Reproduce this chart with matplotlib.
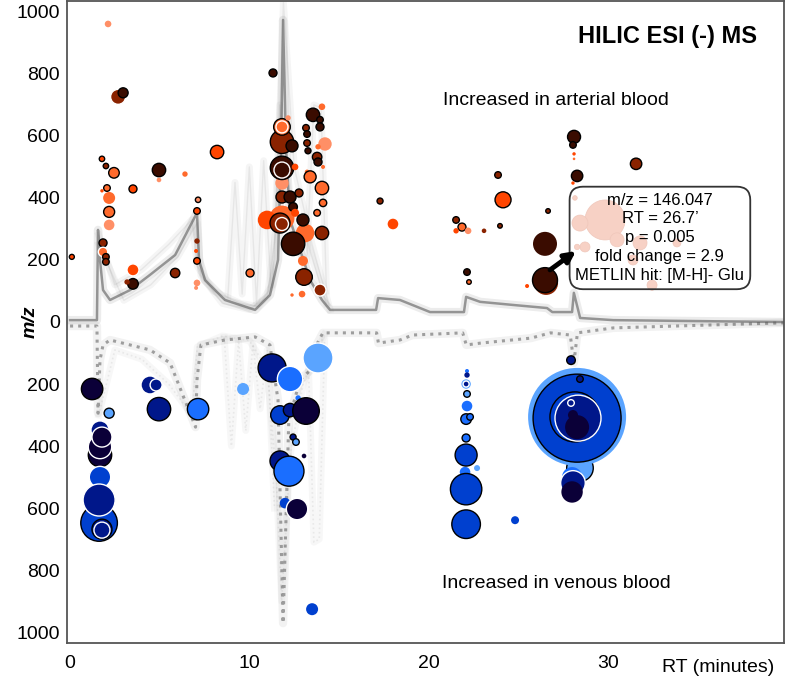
import matplotlib
matplotlib.use("Agg")
import matplotlib.pyplot as plt
import numpy as np

plt.rcParams["font.family"] = ["Liberation Sans", "DejaVu Sans"]

# ---- TIC traces (RT in minutes, m/z-scaled intensity; venous traces negative) ----
up_trace_rt = [0, 1.5, 1.56, 1.67, 1.84, 2.23, 3.35, 4.46, 5.86, 7.08,
               7.19, 7.53, 8.64, 10.32, 11.15, 11.6, 11.77, 11.88, 12.05, 12.27,
               12.83, 13.39, 14.05, 14.5, 17.07, 17.18, 18.4, 20.08, 21.97, 22.09,
               22.87, 24.7, 26.6, 26.9, 28.0, 28.1, 28.45, 30.3, 39.6, 40]
up_trace_mz = [6, 6, 297, 200, 103, 71, 103, 152, 216, 352,
               200, 135, 71, 39, 87, 200, 555, 974, 555, 329,
               232, 135, 71, 39, 39, 77, 71, 32, 32, 81,
               65, 55, 45, 32, 32, 94, 13, 6, 0, 0]

lo_trace_rt = [0, 1.5, 1.56, 1.67, 1.84, 2.23, 3.35, 4.46, 5.58, 7.0,
               7.08, 7.3, 8.64, 10.32, 11.15, 11.6, 11.88, 12.2, 12.83, 13.4,
               13.8, 14.1, 17.1, 17.2, 18.4, 19.1, 21.9, 22.1, 22.9, 25.7,
               26.8, 27.9, 28.1, 28.3, 30.3, 39.6, 40]
lo_trace_mz = [-13, -13, -294, -123, -74, -58, -74, -90, -132, -339,
               -187, -74, -58, -48, -74, -252, -971, -316, -187, -155,
               -68, -35, -35, -68, -58, -42, -35, -74, -68, -52,
               -35, -42, -132, -35, -19, -3, -3]

up_faint = [
    ([1.6, 2.5, 4.0, 5.5, 6.8, 7.1, 8.0, 9.5, 10.5, 11.3, 11.7, 12.2, 13.0, 13.8, 14.3],
     [280, 120, 170, 250, 330, 180, 100, 60, 50, 120, 700, 400, 300, 150, 60]),
    ([1.6, 3.0, 4.5, 6.0, 7.1, 7.3, 8.5, 10.0, 11.0, 11.5, 11.9, 12.5, 13.5, 14.5],
     [250, 70, 120, 210, 320, 150, 60, 40, 80, 300, 1030, 500, 250, 40]),
    ([8.8, 9.2, 9.6, 10.0, 10.4, 10.8, 11.2], [80, 450, 90, 500, 60, 520, 120]),
    ([13.2, 13.6, 14.0, 14.3], [200, 700, 690, 100]),
]
lo_faint = [
    ([1.6, 2.5, 4.0, 5.5, 6.8, 7.1, 8.5, 10.0, 11.0, 11.5, 11.8, 12.3, 13.0, 13.8, 14.2],
     [-300, -90, -120, -200, -300, -80, -45, -60, -150, -500, -900, -420, -200, -90, -40]),
    ([8.6, 9.0, 9.4, 9.8, 10.2, 10.6, 11.0, 11.4], [-50, -400, -60, -350, -70, -280, -90, -600]),
    ([13.3, 13.6, 13.9, 14.2], [-150, -710, -700, -60]),
]

# ---- features increased in arterial blood ----
# level: colour shade 0 (light) .. 4 (dark); outline: 0 none, 1 black, 2 white
up_rt = [0.1, 2.12, 2.68, 2.96, 1.78, 2.0, 2.45, 2.06, 1.78, 2.18,
         2.18, 2.18, 3.51, 4.96, 4.96, 6.41, 8.2, 1.84, 1.84, 2.0,
         2.0, 3.51, 3.51, 3.18, 5.86, 7.14, 7.08, 7.08, 7.03, 7.08,
         7.08, 7.03, 10.04, 11.32,
         11.82, 10.99, 11.82, 11.82, 12.16, 12.38, 11.82, 11.82, 12.27, 12.77,
         12.44, 12.55, 13.11, 12.99, 11.71, 12.44, 12.99, 13.05, 13.94, 12.94,
         12.38, 11.82, 12.55, 13.55, 14.05, 13.94, 13.94, 13.16, 13.22, 13.22,
         14.22, 13.83, 13.27, 13.78, 13.83, 14.11, 13.22, 13.39, 14.05, 14.11,
         13.78, 14.05,
         17.29, 18.01, 23.87, 24.15, 21.53, 21.86, 22.2, 21.53, 23.09, 23.98,
         26.66, 22.14, 22.25, 25.49, 26.49, 26.55, 26.49, 28.11, 28.05, 28.11,
         28.11, 28.28, 28.05, 31.57]
up_mz = [210, 961, 726, 739, 526, 503, 481, 432, 423, 400,
         355, 313, 429, 490, 458, 477, 548, 255, 226, 210,
         194, 168, 123, 129, 158, 394, 358, 261, 229, 197,
         126, 110, 158, 803,
         335, 329, 581, 629, 658, 568, 448, 403, 403, 416,
         371, 352, 287, 329, 319, 252, 197, 145, 103, 90,
         87, 497, 500, 668, 694, 652, 629, 626, 606, 577,
         574, 565, 552, 532, 516, 500, 484, 468, 432, 384,
         352, 287,
         390, 316, 474, 394, 329, 306, 294, 294, 294, 310,
         358, 161, 129, 116, 252, 126, 135, 597, 571, 542,
         526, 471, 448, 510]
up_fc = [1.25, 1.65, 3.75, 2.5, 1.35, 1.35, 2.65, 1.65, 0.85, 3.0,
         2.75, 2.65, 2.0, 3.35, 1.15, 1.35, 3.35, 2.0, 2.35, 1.65,
         1.65, 3.0, 2.65, 1.35, 2.35, 1.35, 1.65, 1.35, 1.0, 1.65,
         1.65, 1.0, 2.0, 2.0,
         6.25, 4.65, 5.85, 4.15, 1.35, 3.0, 3.35, 3.0, 3.0, 2.0,
         2.15, 2.0, 4.65, 3.0, 5.0, 5.85, 2.5, 4.15, 3.0, 1.65,
         0.85, 5.85, 1.65, 3.35, 1.65, 1.65, 2.0, 1.65, 1.65, 1.65,
         3.35, 1.35, 1.5, 2.35, 2.0, 1.0, 1.15, 3.0, 3.35, 1.85,
         1.65, 3.35,
         1.5, 2.65, 1.65, 4.0, 1.65, 2.0, 1.65, 1.35, 1.15, 1.15,
         1.15, 1.65, 1.15, 1.0, 6.0, 6.0, 6.25, 3.25, 1.65, 0.85,
         0.65, 2.85, 0.85, 2.85]
up_level = [2, 0, 3, 4, 2, 3, 1, 1, 2, 1,
            1, 0, 2, 4, 0, 1, 2, 3, 1, 3,
            3, 2, 4, 3, 3, 0, 2, 3, 2, 2,
            0, 0, 1, 4,
            1, 2, 3, 1, 0, 4, 0, 3, 4, 3,
            4, 2, 1, 4, 3, 4, 1, 3, 3, 1,
            1, 4, 2, 4, 1, 4, 4, 3, 4, 3,
            0, 1, 4, 3, 4, 1, 1, 1, 1, 1,
            1, 3,
            3, 2, 3, 2, 3, 1, 0, 2, 3, 3,
            3, 4, 1, 2, 4, 3, 4, 4, 4, 2,
            1, 4, 2, 3]
up_outline = [1, 0, 2, 1, 1, 1, 1, 1, 0, 0,
              1, 0, 1, 1, 0, 0, 1, 1, 2, 1,
              1, 2, 1, 0, 1, 1, 1, 0, 0, 1,
              0, 0, 1, 1,
              0, 0, 1, 1, 0, 1, 0, 1, 1, 1,
              1, 0, 0, 1, 1, 1, 0, 1, 2, 0,
              0, 1, 0, 1, 0, 1, 1, 1, 1, 1,
              0, 0, 1, 1, 1, 0, 0, 1, 1, 1,
              1, 1,
              1, 0, 1, 1, 1, 1, 0, 0, 0, 1,
              1, 1, 1, 0, 0, 0, 1, 1, 1, 0,
              0, 1, 0, 1]

# faded features behind the annotation (Glu region)
pale_rt = [29.84, 28.44, 30.51, 31.79, 33.85, 32.46, 31.4, 28.72, 28.16, 28.28]
pale_mz = [329, 319, 265, 255, 255, 119, 200, 242, 400, 242]
pale_fc = [10.0, 4.0, 3.5, 3.5, 2.0, 2.5, 2.5, 2.5, 1.15, 1.35]

# ---- features increased in venous blood ----
lo_rt = [1.23, 2.18, 1.67, 1.67, 1.67, 1.78, 1.67, 1.62, 1.62, 1.78,
         4.46, 4.8, 4.96, 7.14, 9.65, 11.27, 12.27, 13.83, 12.72, 11.71,
         12.27, 13.16, 12.44, 12.6, 13.05, 11.71, 12.21, 11.99, 12.66, 13.5,
         22.14, 22.14, 22.09, 22.09, 22.14, 22.14, 22.09, 22.31, 22.09, 22.03,
         22.7, 22.09, 22.09, 22.09, 24.82, 27.94, 28.44, 28.0, 28.28, 28.28,
         28.16, 28.33, 28.28, 28.05, 28.44, 27.94, 28.05, 28.0]
lo_mz = [-216, -294, -348, -429, -403, -371, -500, -648, -574, -668,
         -203, -203, -281, -281, -216, -148, -184, -116, -245, -300,
         -284, -287, -371, -387, -432, -448, -481, -584, -603, -926,
         -158, -171, -200, -200, -232, -271, -313, -306, -374, -484,
         -471, -429, -539, -652, -639, -123, -471, -500, -306, -310,
         -306, -310, -339, -300, -184, -261, -519, -548]
lo_fc = [5.35, 2.5, 4.15, 5.85, 5.85, 5.0, 5.35, 9.15, 8.0, 5.0,
         4.15, 3.0, 5.85, 5.35, 3.0, 7.0, 6.35, 7.5, 1.35, 4.65,
         3.35, 6.65, 1.5, 1.65, 1.15, 5.0, 7.5, 2.65, 5.35, 3.0,
         1.0, 1.35, 2.35, 1.5, 1.65, 2.65, 2.65, 1.65, 2.0, 2.65,
         1.5, 5.5, 7.85, 7.15, 2.0, 2.15, 6.65, 5.0, 24.5, 22.0,
         12.5, 11.5, 6.0, 2.5, 1.65, 1.65, 6.15, 5.35]
lo_level = [4, 0, 3, 4, 4, 4, 2, 2, 3, 3,
            3, 3, 3, 1, 0, 3, 1, 0, 1, 2,
            3, 4, 3, 0, 4, 3, 1, 2, 4, 2,
            1, 3, 0, 3, 0, 1, 1, 1, 1, 1,
            0, 2, 2, 2, 2, 3, 0, 1, 0, 2,
            2, 3, 4, 4, 3, 3, 3, 4]
lo_outline = [1, 1, 0, 1, 2, 2, 2, 1, 2, 1,
              0, 2, 1, 1, 0, 1, 2, 2, 0, 1,
              1, 1, 1, 1, 0, 1, 1, 0, 2, 0,
              0, 0, 0, 2, 1, 0, 1, 1, 1, 0,
              0, 1, 1, 1, 0, 1, 1, 0, 0, 1,
              1, 2, 0, 0, 1, 2, 2, 0]

# white highlight rings on the most significant features
ring_rt = [11.82, 11.82, 11.82, 1.78]
ring_mz = [629, 490, 316, -671]
ring_fc = [3.0, 4.0, 3.25, 4.0]

up_palette = ["#ff8f66", "#ff6a2c", "#ff4500", "#8a2300", "#3a0c00"]
lo_palette = ["#5aa4ff", "#1a6eff", "#0040cf", "#00178a", "#0b0038"]
outline_color = {0: "none", 1: "black", 2: "white"}


def marker_area(fc):
    # fold-change value -> scatter area in pt^2 (radius = 2 px per unit at 100 dpi)
    return (np.asarray(fc) * 2.88) ** 2


def draw_bubbles(ax, rt, mz, fc, level, outline, palette):
    face = [palette[i] for i in level]
    edge = [outline_color[o] for o in outline]
    lw = [0.0 if o == 0 else 1.0 for o in outline]
    ax.scatter(rt, mz, s=marker_area(fc), c=face, edgecolors=edge,
               linewidths=lw, zorder=3)


fig = plt.figure(figsize=(7.87, 6.79), dpi=100)
ax = fig.add_axes([67 / 787, 1 - 643 / 679, 717 / 787, 642 / 679])

for rt, mz in up_faint:
    ax.plot(rt, mz, color="#808080", alpha=0.08, lw=5, zorder=1)
    ax.plot(rt, mz, color="#808080", alpha=0.12, lw=1.0, zorder=1)
for rt, mz in lo_faint:
    ax.plot(rt, mz, color="#808080", alpha=0.06, lw=5, zorder=1)
    ax.plot(rt, mz, color="#808080", alpha=0.12, lw=1.2, ls=":", zorder=1)
# soft halo + core line to mimic the overlaid sample traces
ax.plot(up_trace_rt, up_trace_mz, color="#808080", alpha=0.15, lw=6, zorder=2)
ax.plot(up_trace_rt, up_trace_mz, color="#4d4d4d", alpha=0.55, lw=1.8, zorder=2)
ax.plot(lo_trace_rt, lo_trace_mz, color="#808080", alpha=0.1, lw=6, zorder=2)
ax.plot(lo_trace_rt, lo_trace_mz, color="#5a5a5a", alpha=0.55, lw=2.2, ls=":", zorder=2)

draw_bubbles(ax, up_rt, up_mz, up_fc, up_level, up_outline, up_palette)
draw_bubbles(ax, lo_rt, lo_mz, lo_fc, lo_level, lo_outline, lo_palette)
ax.scatter(ring_rt, ring_mz, s=marker_area(ring_fc), facecolors="none",
           edgecolors="white", linewidths=1.0, zorder=3)
ax.scatter(pale_rt, pale_mz, s=marker_area(pale_fc), c="#f3b9a6",
           edgecolors="#e8a996", linewidths=0.5, zorder=3)

ax.text(32.9, 271,
        "m/z = 146.047\nRT = 26.7\u2019\np = 0.005\nfold change = 2.9\nMETLIN hit: [M-H]- Glu",
        ha="center", va="center", fontsize=12, linespacing=1.33, zorder=5,
        bbox=dict(boxstyle="round,pad=0.35,rounding_size=0.8",
                  fc=(1, 1, 1, 0.35), ec="#333333", lw=1.3))
ax.annotate("", xy=(28.22, 229), xytext=(26.77, 168), zorder=6,
            arrowprops=dict(arrowstyle="-|>", lw=3.5, color="black",
                            mutation_scale=16, shrinkA=0, shrinkB=0))

ax.text(33.3, 920, "HILIC ESI (-) MS", ha="center", va="center",
        fontsize=17, fontweight="bold")
ax.text(27.1, 713, "Increased in arterial blood", ha="center", va="center", fontsize=14)
ax.text(27.1, -842, "Increased in venous blood", ha="center", va="center", fontsize=14)

ax.set_xlim(-0.17, 39.82)
ax.set_ylim(-1035, 1035)
ax.set_xticks([0, 10, 20, 30])
ax.set_xticklabels(["0", "10", "20", "30"], fontsize=14)
yt = [1000, 800, 600, 400, 200, 0, -200, -400, -600, -800, -1000]
ax.set_yticks(yt)
ax.set_yticklabels([str(abs(v)) for v in yt], fontsize=14)
ax.tick_params(axis="x", length=0, pad=9)
ax.tick_params(axis="y", length=0, pad=5)
for sp in ax.spines.values():
    sp.set_color("#555555")
    sp.set_linewidth(1.3)

fig.text(30 / 787, 1 - 322 / 679, "m/z", rotation=90, ha="center", va="center",
         fontsize=14, fontweight="bold", fontstyle="italic")
fig.text(774 / 787, 1 - 667 / 679, "RT (minutes)", ha="right", va="center", fontsize=14)

fig.savefig("out.png", dpi=100)
